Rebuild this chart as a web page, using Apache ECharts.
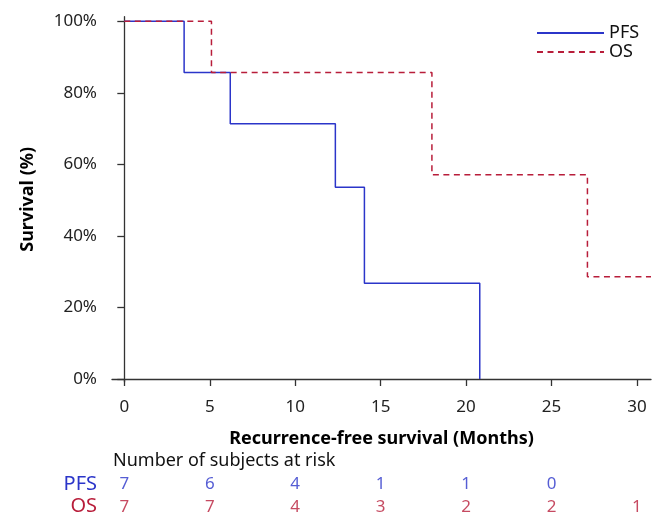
<!DOCTYPE html>
<html>
<head>
<meta charset="utf-8">
<script src="https://cdn.jsdelivr.net/npm/echarts@6/dist/echarts.min.js"></script>
<style>html,body{margin:0;padding:0;background:#fff}#c{width:662px;height:513px}</style>
</head>
<body>
<div id="c"></div>
<script>
var pfsTimes = [0, 3.5, 6.2, 12.35, 14.05, 20.8];
var pfsValues = [100, 85.7, 71.4, 53.6, 26.8, 0];
var osTimes = [0, 5.1, 18.0, 27.1, 30.82];
var osValues = [100, 85.7, 57.1, 28.6, 28.6];
var xTicks = [0, 5, 10, 15, 20, 25, 30];
var yTicks = [0, 20, 40, 60, 80, 100];
var riskRows = ['PFS', 'OS'];
var riskTimes = [0, 5, 10, 15, 20, 25, 30];
var pfsAtRisk = [7, 6, 4, 1, 1, 0, null];
var osAtRisk = [7, 7, 4, 3, 2, 2, 1];

var BLUE = '#2b35c9', RED = '#b81d3a';
var FONT = 'Noto Sans';

function pairs(t, v) { return t.map(function (x, i) { return [x, v[i]]; }); }
function riskData(row, vals) {
  var out = [];
  riskTimes.forEach(function (t, i) { if (vals[i] !== null) out.push([t, row, vals[i]]); });
  return out;
}

var chart = echarts.init(document.getElementById('c'), null, {renderer: 'canvas'});
chart.setOption({
  animation: false,
  textStyle: {fontFamily: FONT},
  grid: [
    {left: 112, right: 11, top: 16.7, height: 365.3, containLabel: false, outerBoundsMode: 'none'},
    {left: 112, right: 11, top: 473, height: 45, containLabel: false, outerBoundsMode: 'none'}
  ],
  legend: {
    orient: 'vertical', left: 536, top: 24, align: 'left', padding: 0,
    itemWidth: 67, itemHeight: 14, itemGap: 1,
    itemStyle: {color: 'transparent', borderWidth: 0, opacity: 0},
    textStyle: {fontFamily: FONT, fontSize: 18, color: '#111', padding: [0, 0, 0, 0]},
    data: ['PFS', 'OS']
  },
  xAxis: [{
    type: 'value', gridIndex: 0, min: -0.72, max: 30.82,
    axisLine: {show: true, lineStyle: {color: '#333', width: 1.3}},
    axisTick: {show: true, length: 7, lineStyle: {color: '#333', width: 1.3}, customValues: xTicks},
    axisLabel: {customValues: xTicks, margin: 17, fontSize: 17, color: '#222', fontFamily: FONT},
    splitLine: {show: false},
    name: 'Recurrence-free survival (Months)', nameLocation: 'middle', nameGap: 48,
    nameTextStyle: {fontSize: 18, fontWeight: 'bold', color: '#000', fontFamily: FONT}
  }, {
    type: 'value', gridIndex: 1, min: -0.72, max: 30.82, show: false
  }],
  yAxis: [{
    type: 'value', gridIndex: 0, min: -0.84, max: 101.3,
    axisLine: {show: true, lineStyle: {color: '#333', width: 1.3}},
    axisTick: {show: true, length: 7, lineStyle: {color: '#333', width: 1.3}, customValues: yTicks},
    axisLabel: {customValues: yTicks, margin: 15, fontSize: 17, color: '#222', fontFamily: FONT,
      formatter: function (v) { return v + '%'; }},
    splitLine: {show: false},
    name: 'Survival (%)', nameLocation: 'middle', nameGap: 75, nameRotate: 90,
    nameTextStyle: {fontSize: 18, fontWeight: 'bold', color: '#000', fontFamily: FONT}
  }, {
    type: 'category', gridIndex: 1, inverse: true, data: riskRows,
    axisLine: {show: false}, axisTick: {show: false}, splitLine: {show: false},
    axisLabel: {interval: 0, margin: 15, fontSize: 20, fontFamily: FONT,
      formatter: function (v) { return v === 'PFS' ? '{p|PFS}' : '{o|OS}'; },
      rich: {p: {color: BLUE, fontSize: 20, fontFamily: FONT}, o: {color: RED, fontSize: 20, fontFamily: FONT}}}
  }],
  graphic: [{
    type: 'text', left: 113, top: 452,
    style: {text: 'Number of subjects at risk', fontSize: 18, fontFamily: FONT, fill: '#111'}
  }],
  series: [{
    name: 'PFS', type: 'line', step: 'end', xAxisIndex: 0, yAxisIndex: 0,
    data: pairs(pfsTimes, pfsValues), symbol: 'none', color: BLUE,
    lineStyle: {color: BLUE, width: 1.5}
  }, {
    name: 'OS', type: 'line', step: 'end', xAxisIndex: 0, yAxisIndex: 0,
    data: pairs(osTimes, osValues), symbol: 'none', color: RED,
    lineStyle: {color: RED, width: 1.5, type: [6, 4.5]}
  }, {
    type: 'scatter', xAxisIndex: 1, yAxisIndex: 1, symbolSize: 0, silent: true,
    data: riskData('PFS', pfsAtRisk),
    label: {show: true, position: 'inside', fontSize: 17, fontFamily: FONT, color: BLUE,
      formatter: function (p) { return p.value[2]; }}
  }, {
    type: 'scatter', xAxisIndex: 1, yAxisIndex: 1, symbolSize: 0, silent: true,
    data: riskData('OS', osAtRisk),
    label: {show: true, position: 'inside', fontSize: 17, fontFamily: FONT, color: RED,
      formatter: function (p) { return p.value[2]; }}
  }]
});
</script>
</body>
</html>
